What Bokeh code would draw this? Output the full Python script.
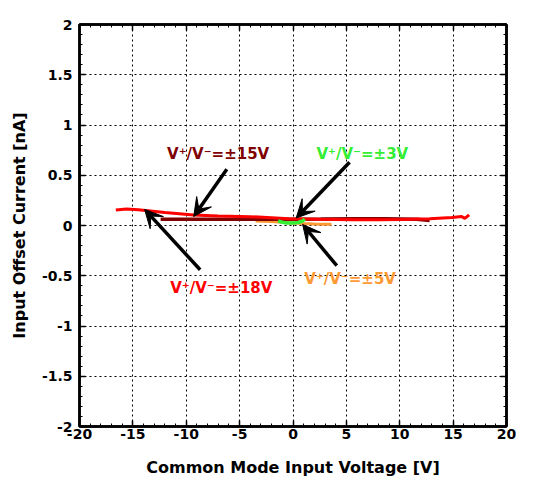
from bokeh.plotting import figure
from bokeh.models import LinearAxis, FixedTicker, Label, Arrow, VeeHead, Range1d
from bokeh.embed import file_html
from bokeh.resources import INLINE

# ---- data ----
title_text = "Ta=25℃"
x_label = "Common Mode Input Voltage [V]"
y_label = "Input Offset Current [nA]"

x_ticks = [-20, -15, -10, -5, 0, 5, 10, 15, 20]
x_tick_labels = ["-20", "-15", "-10", "-5", "0", "5", "10", "15", "20"]
y_ticks = [-2, -1.5, -1, -0.5, 0, 0.5, 1, 1.5, 2]
y_tick_labels = ["-2", "-1.5", "-1", "-0.5", "0", "0.5", "1", "1.5", "2"]

# V+/V- = ±18V (red)
v18_x = [-16.6, -15.6, -14.5, -12.0, -9.3, -7.0, -4.0, -2.0, -0.4, 2.5, 5.6, 8.0, 10.1, 12.8, 14.9, 15.8, 16.1, 16.5]
v18_y = [0.155, 0.165, 0.157, 0.130, 0.105, 0.095, 0.088, 0.078, 0.068, 0.062, 0.057, 0.058, 0.060, 0.066, 0.080, 0.090, 0.070, 0.105]
# V+/V- = ±15V (dark red)
v15_x = [-12.4, -10.0, -6.0, -3.4, 0.0, 2.6, 6.0, 8.6, 11.6, 12.8]
v15_y = [0.062, 0.062, 0.062, 0.062, 0.062, 0.064, 0.068, 0.068, 0.062, 0.050]
# V+/V- = ±5V (orange)
v5_x = [-3.5, -2.0, -1.0, 0.0, 1.0, 2.0, 3.0, 3.6]
v5_y = [0.045, 0.040, 0.032, 0.025, 0.020, 0.016, 0.013, 0.013]
# V+/V- = ±3V (green)
v3_x = [-1.4, -1.0, -0.6, 0.0, 0.5, 0.9, 1.1]
v3_y = [0.045, 0.032, 0.025, 0.024, 0.030, 0.045, 0.065]

series_labels = ["V⁺/V⁻=±18V", "V⁺/V⁻=±15V", "V⁺/V⁻=±5V", "V⁺/V⁻=±3V"]

# ---- styling ----
FONT = "DejaVu Sans"
C18, C15, C5, C3 = "#ff0000", "#800000", "#ff9933", "#33ee33"

p = figure(width=528, height=479, x_range=Range1d(-20, 20), y_range=Range1d(-2, 2),
           output_backend="svg", toolbar_location=None,
           min_border_left=79, min_border_right=22, min_border_top=24, min_border_bottom=48,
           background_fill_color="white", border_fill_color="white")
p.outline_line_color = "black"
p.outline_line_width = 2.5

x_minor = [float(v) for v in range(-20, 21)]
y_minor = [v / 10 for v in range(-20, 21)]
xt = FixedTicker(ticks=x_ticks, minor_ticks=x_minor)
yt = FixedTicker(ticks=y_ticks, minor_ticks=y_minor)


def style_axis(ax, ticker, overrides):
    ax.ticker = ticker
    ax.axis_line_width = 2.5
    ax.axis_line_color = "black"
    ax.major_tick_in = 6
    ax.major_tick_out = 0
    ax.minor_tick_in = 3
    ax.minor_tick_out = 0
    ax.major_tick_line_width = 1.5
    ax.minor_tick_line_width = 1
    ax.major_label_overrides = overrides
    ax.major_label_text_font = FONT
    ax.major_label_text_font_style = "bold"
    ax.major_label_text_font_size = "14px"
    ax.major_label_text_color = "black"


xa = p.xaxis[0]
ya = p.yaxis[0]
style_axis(xa, xt, {t: s for t, s in zip(x_ticks, x_tick_labels)})
style_axis(ya, yt, {t: s for t, s in zip(y_ticks, y_tick_labels)})
xa.major_label_standoff = 2
ya.major_label_standoff = 7

xa.axis_label = x_label
ya.axis_label = y_label
for ax in (xa, ya):
    ax.axis_label_text_font = FONT
    ax.axis_label_text_font_style = "bold"
    ax.axis_label_text_font_size = "16px"
    ax.axis_label_text_color = "black"
xa.axis_label_standoff = 16
ya.axis_label_standoff = 10

top = LinearAxis()
right = LinearAxis()
style_axis(top, xt, {t: "" for t in x_ticks})
style_axis(right, yt, {t: "" for t in y_ticks})
top.major_label_standoff = 0
right.major_label_standoff = 0
p.add_layout(top, "above")
p.add_layout(right, "right")

for g, t in ((p.xgrid[0], xt), (p.ygrid[0], yt)):
    g.ticker = t
    g.grid_line_color = "black"
    g.grid_line_dash = "2 3"
    g.grid_line_width = 1

# curves
p.line(v5_x, v5_y, line_color=C5, line_width=3)
p.line(v15_x, v15_y, line_color=C15, line_width=3.5)
p.line(v18_x, v18_y, line_color=C18, line_width=3)
p.line(v3_x, v3_y, line_color=C3, line_width=3.5)

# title
p.add_layout(Label(x=0, y=2, y_offset=3, text=title_text, text_align="center",
                   text_baseline="bottom", text_font=FONT, text_font_style="bold",
                   text_font_size="13px", text_color="black"))

# annotations: (label, colour, text x, text y, arrow tail, arrow head)
notes = [
    (series_labels[1], C15, -11.8, 0.71, (-6.2, 0.56), (-9.3, 0.09)),
    (series_labels[3], C3, 2.2, 0.71, (5.3, 0.63), (0.3, 0.075)),
    (series_labels[0], C18, -11.5, -0.62, (-8.7, -0.44), (-13.9, 0.16)),
    (series_labels[2], C5, 1.05, -0.53, (4.1, -0.40), (0.9, 0.01)),
]
for txt, col, tx, ty, tail, head in notes:
    p.add_layout(Label(x=tx, y=ty, text=txt, text_align="left", text_baseline="middle",
                       text_font=FONT, text_font_style="bold", text_font_size="15px",
                       text_color=col))
    p.add_layout(Arrow(x_start=tail[0], y_start=tail[1], x_end=head[0], y_end=head[1],
                       line_color="black", line_width=3.5,
                       end=VeeHead(size=18, fill_color="black", line_color="black", line_width=1)))

open("out.html", "w").write(file_html(p, INLINE))
